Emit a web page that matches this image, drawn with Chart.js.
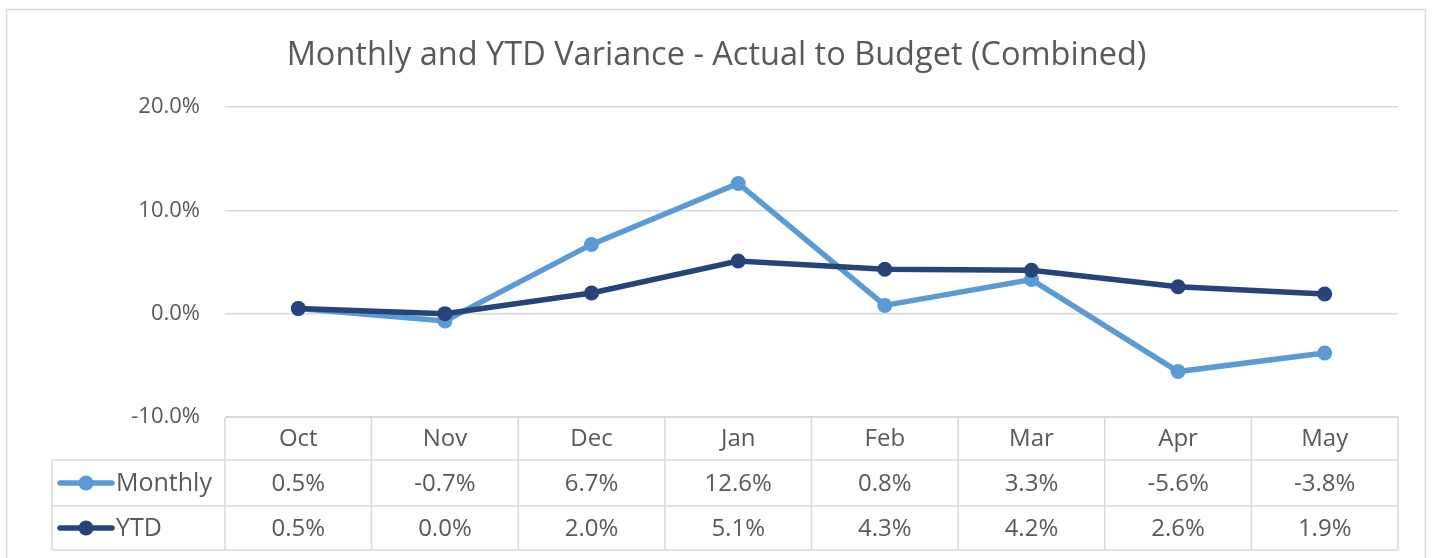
<!DOCTYPE html>
<html>
<head>
<meta charset="utf-8">
<script src="https://cdn.jsdelivr.net/npm/chart.js@4"></script>
<style>
  html, body { margin: 0; padding: 0; background: #fff; }
  #wrap { width: 1433px; height: 558px; }
</style>
</head>
<body>
<div id="wrap"><canvas id="myChart" width="1433" height="558"></canvas></div>
<script>
// DATA
var months = ["Oct", "Nov", "Dec", "Jan", "Feb", "Mar", "Apr", "May"];
var monthly = [0.5, -0.7, 6.7, 12.6, 0.8, 3.3, -5.6, -3.8];
var ytd = [0.5, 0.0, 2.0, 5.1, 4.3, 4.2, 2.6, 1.9];
var yTicks = [-10, 0, 10, 20];

var FONT = "'Open Sans', 'Noto Sans', sans-serif";
var TEXT = '#595959';
var GRID = '#D9D9D9';
var LIGHT = '#5B9BD5';
var DARK = '#264478';

function pct(v) { return v.toFixed(1) + '%'; }

// draws outer border + the data table under the plot
var tablePlugin = {
    id: 'dataTable',
    beforeDraw: function (chart) {
        var ctx = chart.ctx;
        ctx.save();
        ctx.fillStyle = '#fff';
        ctx.fillRect(0, 0, chart.width, chart.height);
        ctx.strokeStyle = GRID;
        ctx.lineWidth = 1.5;
        ctx.strokeRect(6.5, 9.5, 1419, 560);
        ctx.restore();
    },
    afterDraw: function (chart) {
        var ctx = chart.ctx;
        var area = chart.chartArea;
        var x = chart.scales.x;
        var left = area.left, right = area.right;
        var rows = [area.bottom, area.bottom + 43, area.bottom + 89, area.bottom + 133];
        var legendLeft = 52;
        var colW = (right - left) / months.length;

        ctx.save();
        ctx.strokeStyle = GRID;
        ctx.lineWidth = 1.5;
        ctx.beginPath();
        // horizontal lines
        ctx.moveTo(left, rows[0]); ctx.lineTo(right, rows[0]);
        for (var r = 1; r < rows.length; r++) {
            ctx.moveTo(legendLeft, rows[r]); ctx.lineTo(right, rows[r]);
        }
        // vertical lines
        ctx.moveTo(legendLeft, rows[1]); ctx.lineTo(legendLeft, rows[3]);
        for (var c = 0; c <= months.length; c++) {
            var xx = left + c * colW;
            ctx.moveTo(xx, rows[0]); ctx.lineTo(xx, rows[3]);
        }
        ctx.stroke();

        ctx.fillStyle = TEXT;
        ctx.font = '24px ' + FONT;
        ctx.textAlign = 'center';
        ctx.textBaseline = 'middle';
        months.forEach(function (m, i) {
            var cx = x.getPixelForValue(i);
            ctx.fillText(m, cx, (rows[0] + rows[1]) / 2 + 1);
            ctx.fillText(pct(monthly[i]), cx, (rows[1] + rows[2]) / 2 + 1);
            ctx.fillText(pct(ytd[i]), cx, (rows[2] + rows[3]) / 2 + 1);
        });

        // legend keys
        var keys = [["Monthly", LIGHT, (rows[1] + rows[2]) / 2], ["YTD", DARK, (rows[2] + rows[3]) / 2]];
        keys.forEach(function (k) {
            ctx.strokeStyle = k[1];
            ctx.fillStyle = k[1];
            ctx.lineWidth = 5.5;
            ctx.lineCap = 'round';
            ctx.beginPath();
            ctx.moveTo(60, k[2]); ctx.lineTo(112, k[2]);
            ctx.stroke();
            ctx.beginPath();
            ctx.arc(86, k[2], 7.5, 0, Math.PI * 2);
            ctx.fill();
            ctx.fillStyle = TEXT;
            ctx.textAlign = 'left';
            ctx.font = '25px ' + FONT;
            ctx.fillText(k[0], 116, k[2] + 1);
        });
        ctx.restore();
    }
};

var ctx = document.getElementById('myChart').getContext('2d');

var chart = new Chart(ctx, {
    type: 'line',
    data: {
        labels: months,
        datasets: [{
            label: "Monthly",
            data: monthly,
            borderColor: LIGHT,
            backgroundColor: LIGHT,
            borderWidth: 5.5,
            pointRadius: 7.5,
            pointHoverRadius: 7.5,
            pointBorderWidth: 0,
            tension: 0,
            order: 2
        },
        {
            label: "YTD",
            data: ytd,
            borderColor: DARK,
            backgroundColor: DARK,
            borderWidth: 5.5,
            pointRadius: 7.5,
            pointHoverRadius: 7.5,
            pointBorderWidth: 0,
            tension: 0,
            order: 1
        }]
    },
    options: {
        responsive: false,
        animation: false,
        layout: { padding: { left: 35, right: 35, top: 0, bottom: 141 } },
        plugins: {
            legend: { display: false },
            tooltip: { enabled: false },
            title: {
                display: true,
                text: 'Monthly and YTD Variance - Actual to Budget (Combined)',
                color: TEXT,
                font: { family: FONT, size: 32.5, weight: 'normal' },
                padding: { top: 36, bottom: 32 }
            }
        },
        scales: {
            x: {
                display: false,
                offset: true
            },
            y: {
                min: -10,
                max: 20,
                afterBuildTicks: function (scale) {
                    scale.ticks = yTicks.map(function (v) { return { value: v }; });
                },
                afterFit: function (scale) { scale.width = 190; },
                border: { display: false },
                grid: { color: GRID, lineWidth: 1.5, drawTicks: false },
                ticks: {
                    color: TEXT,
                    padding: 25,
                    font: { family: FONT, size: 22 },
                    callback: function (v) { return pct(v); }
                }
            }
        }
    },
    plugins: [tablePlugin]
});
</script>
</body>
</html>
